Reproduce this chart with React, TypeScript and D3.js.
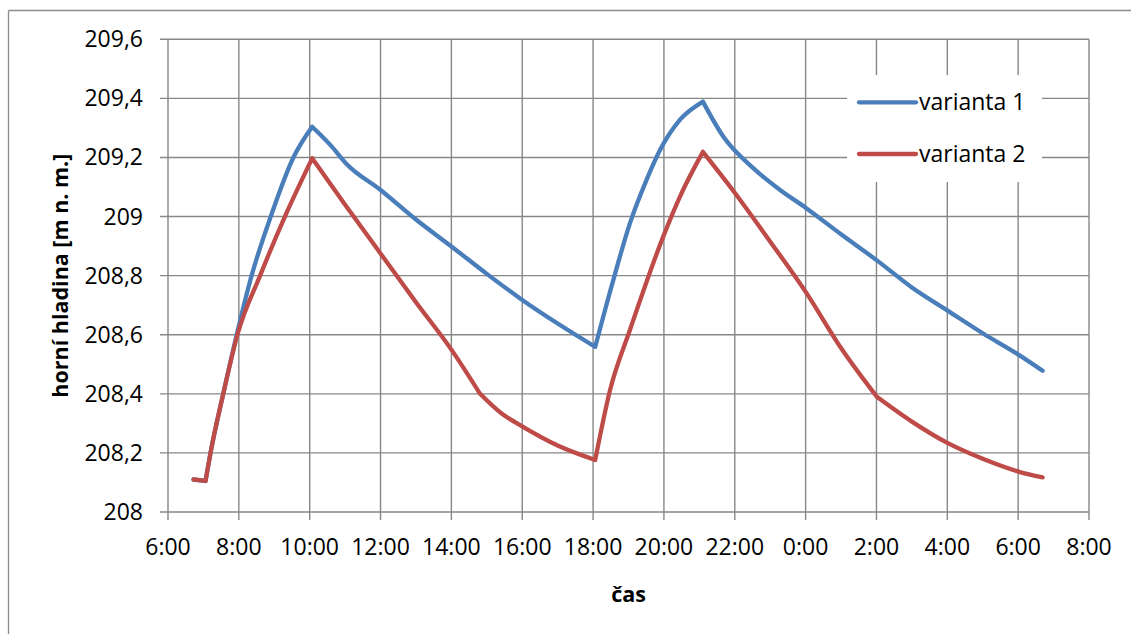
import React from "react";
import * as d3 from "d3";

// ---- data ----
const xTickHours = [6, 8, 10, 12, 14, 16, 18, 20, 22, 24, 26, 28, 30, 32];
const xTickLabels = ["6:00", "8:00", "10:00", "12:00", "14:00", "16:00", "18:00", "20:00", "22:00", "0:00", "2:00", "4:00", "6:00", "8:00"];
const yTicks = [208, 208.2, 208.4, 208.6, 208.8, 209, 209.2, 209.4, 209.6];
const yTickLabels = ["208", "208,2", "208,4", "208,6", "208,8", "209", "209,2", "209,4", "209,6"];

const seriesNames = ["varianta 1", "varianta 2"];

const hoursV1 = [6.72, 7.06, 7.2, 7.56, 7.94, 8.36, 8.9, 9.54, 10.07, 10.6, 11.04, 12.0, 13.0, 14.01, 15.0, 16.01, 17.0, 18.06, 18.57, 19.04, 19.51, 19.89, 20.45, 21.1, 21.68, 22.53, 23.28, 24.0, 25.0, 26.03, 27.0, 28.03, 29.0, 30.03, 30.69];
const valuesV1 = [208.11, 208.105, 208.2, 208.4, 208.6, 208.8, 209.0, 209.2, 209.304, 209.24, 209.178, 209.09, 208.99, 208.898, 208.806, 208.717, 208.638, 208.559, 208.785, 208.977, 209.124, 209.225, 209.327, 209.389, 209.27, 209.163, 209.09, 209.03, 208.94, 208.85, 208.76, 208.68, 208.605, 208.531, 208.478];
const kinksV1 = [7.06, 10.07, 18.06, 21.1];

const hoursV2 = [6.72, 7.06, 7.2, 7.56, 7.96, 8.6, 9.3, 10.07, 11.0, 12.0, 13.0, 14.01, 14.81, 15.4, 16.01, 17.0, 18.06, 18.48, 19.04, 19.98, 20.45, 21.1, 22.01, 22.9, 24.03, 25.0, 26.01, 27.0, 28.03, 29.0, 30.03, 30.69];
const valuesV2 = [208.11, 208.105, 208.2, 208.4, 208.6, 208.8, 209.0, 209.197, 209.04, 208.875, 208.71, 208.548, 208.4, 208.335, 208.289, 208.225, 208.176, 208.413, 208.616, 208.932, 209.067, 209.219, 209.079, 208.932, 208.74, 208.555, 208.39, 208.306, 208.232, 208.18, 208.136, 208.117];
const kinksV2 = [7.06, 10.07, 14.81, 18.06, 21.1, 26.01];

const colors = ["#4A7EBB", "#BE4B48"];

function splitAtKinks(hours: number[], values: number[], kinks: number[]) {
  const segs: [number, number][][] = [];
  let cur: [number, number][] = [];
  hours.forEach((h, i) => {
    cur.push([h, values[i]]);
    if (kinks.includes(h)) {
      segs.push(cur);
      cur = [[h, values[i]]];
    }
  });
  if (cur.length > 1) segs.push(cur);
  return segs;
}

export default function App() {
  const W = 1131, H = 634;
  const left = 168, right = 1089, top = 39.3, bottom = 512;
  const x = d3.scaleLinear().domain([6, 32]).range([left, right]);
  const y = d3.scaleLinear().domain([208, 209.6]).range([bottom, top]);

  const line = d3.line<[number, number]>()
    .x((d) => x(d[0]))
    .y((d) => y(d[1]))
    .curve(d3.curveMonotoneX);

  const path1 = splitAtKinks(hoursV1, valuesV1, kinksV1).map((s) => line(s)).join("");
  const path2 = splitAtKinks(hoursV2, valuesV2, kinksV2).map((s) => line(s)).join("");

  const grid = "#878787";
  const font = "'Open Sans', sans-serif";

  return (
    <svg width={W} height={H} style={{ position: "absolute", left: 0, top: 0, background: "#fff" }}>
      <rect x={0} y={0} width={W} height={H} fill="#fff" />
      {/* chart frame */}
      <line x1={8.5} y1={10.5} x2={8.5} y2={H} stroke="#8c8c8c" strokeWidth={1.3} />
      <line x1={8.5} y1={10.5} x2={W} y2={10.5} stroke="#8c8c8c" strokeWidth={1.3} />

      {/* gridlines */}
      {yTicks.map((t, i) => (
        <line key={"gy" + i} x1={left - 8} x2={right} y1={y(t)} y2={y(t)} stroke={grid} strokeWidth={1.4} />
      ))}
      {xTickHours.map((t, i) => (
        <line key={"gx" + i} x1={x(t)} x2={x(t)} y1={top} y2={bottom + 8} stroke={grid} strokeWidth={1.4} />
      ))}

      {/* y tick labels */}
      {yTicks.map((t, i) => (
        <text key={"ly" + i} x={143} y={y(t) + 8} textAnchor="end" fontFamily={font} fontSize={23} fill="#000">
          {yTickLabels[i]}
        </text>
      ))}
      {/* x tick labels */}
      {xTickHours.map((t, i) => (
        <text key={"lx" + i} x={x(t)} y={555} textAnchor="middle" fontFamily={font} fontSize={23} fill="#000">
          {xTickLabels[i]}
        </text>
      ))}

      {/* axis titles */}
      <text x={(left + right) / 2} y={602} textAnchor="middle" fontFamily={font} fontWeight="bold" fontSize={21.5} fill="#000">
        čas
      </text>
      <text
        transform={`translate(68, ${(top + bottom) / 2}) rotate(-90)`}
        textAnchor="middle"
        fontFamily={font}
        fontWeight="bold"
        fontSize={21.5}
        fill="#000"
      >
        horní hladina [m n. m.]
      </text>

      {/* series */}
      <path d={path1} fill="none" stroke={colors[0]} strokeWidth={4.3} strokeLinejoin="round" strokeLinecap="round" />
      <path d={path2} fill="none" stroke={colors[1]} strokeWidth={4.3} strokeLinejoin="round" strokeLinecap="round" />

      {/* legend */}
      <rect x={847} y={75} width={195} height={107} fill="#fff" />
      {seriesNames.map((n, i) => {
        const ly = 102.3 + i * 51.7;
        return (
          <g key={"lg" + i}>
            <line x1={859} x2={916} y1={ly} y2={ly} stroke={colors[i]} strokeWidth={4.3} strokeLinecap="round" />
            <text x={919} y={ly + 8} fontFamily={font} fontSize={23} fill="#000">
              {n}
            </text>
          </g>
        );
      })}
    </svg>
  );
}
